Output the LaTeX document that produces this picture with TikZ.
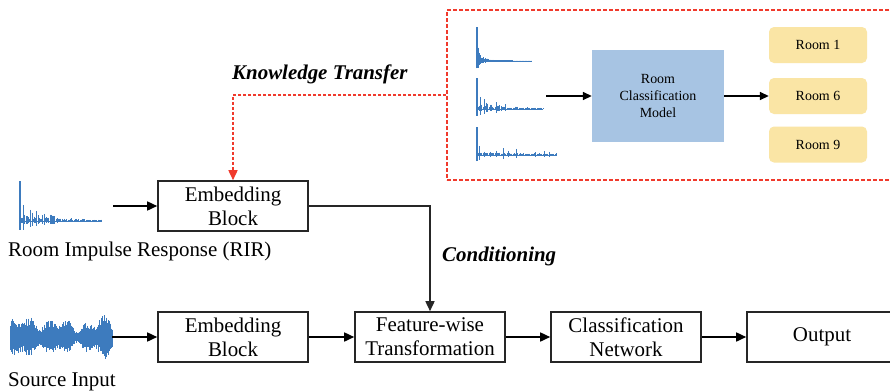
\documentclass[tikz,border=0pt]{standalone}
\usepackage{fontspec}
\setmainfont{Liberation Serif}
\usetikzlibrary{arrows.meta}

\definecolor{wavecol}{HTML}{3D7BBE}
\definecolor{kred}{HTML}{F03A2C}
\definecolor{clsblue}{HTML}{A7C4E3}
\definecolor{roomyel}{HTML}{FAE5A5}
\definecolor{boxline}{HTML}{262626}

% impulse-response sketch: x0, baseline, length, peak, decay, step, seed, sparsity
\newcommand{\rirwave}[8]{%
  \pgfmathsetseed{#7}%
  \draw[wave] (#1,#2) -- ++(#3,0);
  \draw[wave, line width=1.2bp] (#1,#2+#4*0.22) -- (#1,#2-#4);
  \pgfmathtruncatemacro{\nsteps}{#3/#6}%
  \foreach \k in {1,...,\nsteps}{%
    \pgfmathsetmacro{\xx}{#1+\k*#6}%
    \pgfmathsetmacro{\aa}{#4*0.5*exp(-\k*#6/#5)*(0.12+0.88*rnd^#8)+0.5}%
    \draw[wave] (\xx,#2-\aa) -- (\xx,#2+0.55*\aa);
  }%
}

\tikzset{
  wave/.style={draw=wavecol, line width=0.7bp},
  blockbox/.style={draw=boxline, line width=1.6bp, minimum width=150bp,
    minimum height=50bp, inner sep=0pt, align=center,
    font=\fontsize{21}{24}\selectfont},
  roombox/.style={fill=roomyel, rounded corners=5bp, minimum width=98bp,
    minimum height=36bp, inner sep=0pt, font=\fontsize{14}{17}\selectfont},
  flow/.style={draw=black, line width=1.6bp, -{Triangle[length=10bp,width=9bp]}},
  smallflow/.style={draw=black, line width=1.6bp, -{Triangle[length=9bp,width=8bp]}},
  biglabel/.style={inner sep=0pt, font=\fontsize{21}{24}\selectfont},
  emph/.style={inner sep=0pt, font=\fontsize{21}{24}\selectfont\bfseries\itshape},
}

\begin{document}
\begin{tikzpicture}[x=1bp, y=-1bp]
\clip (0,0) rectangle (890,391);
\fill[white] (0,0) rectangle (890,391);

% ---- knowledge-transfer panel ----
\node[draw=kred, dash pattern=on 4bp off 2bp, line width=1.6bp,
      minimum width=460bp, minimum height=170bp, inner sep=0pt]
      (ktbox) at (677,95) {};

\rirwave{477}{61}{55}{34}{5}{0.6}{11}{1}
\rirwave{477}{109}{66}{31}{22}{1.2}{23}{3}
\rirwave{477}{155}{80}{28}{45}{1.2}{5}{6}
\coordinate (wavesout) at (546,96);

\node[fill=clsblue, minimum width=132bp, minimum height=92bp, inner sep=0pt,
      align=center, font=\fontsize{14}{17}\selectfont]
      (cls) at (658,96) {Room\\Classification\\Model};

\node[roombox] (room1) at (818,45) {Room 1};
\node[roombox] (room6) at (818,96) {Room 6};
\node[roombox] (room9) at (818,144.5) {Room 9};

\draw[smallflow] (wavesout) -- (cls.west);
\draw[smallflow] (cls.east) -- (room6.west);

% ---- main pipeline ----
\rirwave{20}{221}{82}{40}{26}{1.2}{3}{3}
\coordinate (rirout) at (113,206);

% source signal as a dense band of strokes
\pgfmathsetseed{42}
\foreach \k in {0,...,255}{%
  \pgfmathsetmacro{\tpos}{\k/255}%
  \pgfmathsetmacro{\env}{(13+3*sin(\tpos*900)+4*sin(\tpos*2000+40)+2*sin(\tpos*430+10))*min(1,0.6+\tpos*30)}%
  \pgfmathsetmacro{\up}{\env*(0.55+0.45*rnd^2)+1}%
  \pgfmathsetmacro{\dn}{\env*(0.55+0.45*rnd^2)+1}%
  \draw[draw=wavecol, line width=0.7bp] (10+\k*0.4,337-\up) -- (10+\k*0.4,337+\dn);
}
\coordinate (srcout) at (112,337);

\node[blockbox] (emb1) at (233,206) {Embedding\\Block};
\node[blockbox] (emb2) at (233,337) {Embedding\\Block};
\node[blockbox] (feat) at (430,337) {Feature-wise\\Transformation};
\node[blockbox] (clsnet) at (626,337) {Classification\\Network};
\node[blockbox] (out) at (822,337) {Output};

\node[biglabel, anchor=west] (rirlab) at (8,251) {Room Impulse Response (RIR)};
\node[biglabel, anchor=west] (srclab) at (8,382) {Source Input};

\node[emph, anchor=west] (ktlab) at (232,74) {Knowledge Transfer};
\node[emph, anchor=west] (condlab) at (442,256) {Conditioning};

\draw[flow] (rirout) -- (emb1.west);
\draw[flow] (srcout) -- (emb2.west);
\draw[flow] (emb2.east) -- (feat.west);
\draw[flow] (feat.east) -- (clsnet.west);
\draw[flow] (clsnet.east) -- (out.west);
\draw[flow, draw=boxline] (emb1.east) -| (feat.north);

\draw[draw=kred, line width=1.6bp, dash pattern=on 3bp off 2bp,
      -{Triangle[length=10bp,width=9bp]}] (ktbox.west) -| (emb1.north);
\end{tikzpicture}
\end{document}
